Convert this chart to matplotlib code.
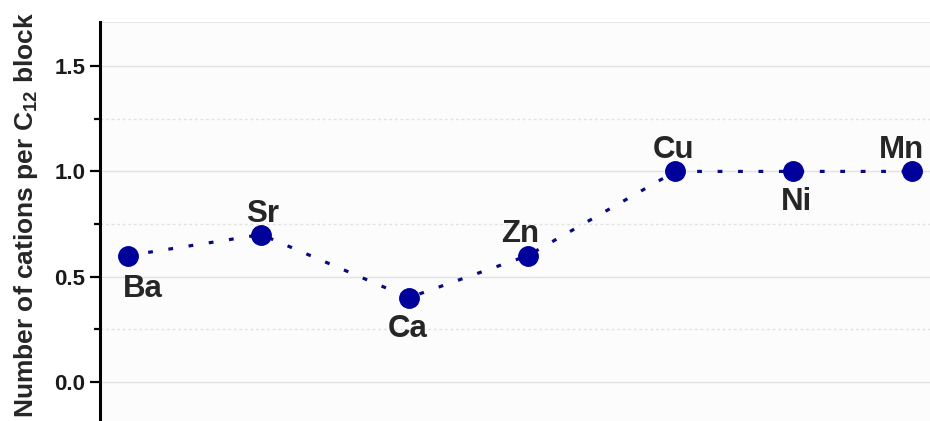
import matplotlib.pyplot as plt
import numpy as np

# data
cations = ["Ba", "Sr", "Ca", "Zn", "Cu", "Ni", "Mn"]
xpos = [0.0, 1.12, 2.36, 3.36, 4.60, 5.59, 6.59]
n_cations = [0.6, 0.7, 0.4, 0.6, 1.0, 1.0, 1.0]

# label placement (pixels from marker to text baseline centre)
label_off = [(15, -41), (1, 13), (-1, -39), (-8, 14), (-2, 13), (3, -39), (-11, 13)]

plt.rcParams['font.family'] = ['Liberation Sans', 'DejaVu Sans']

fig = plt.figure(figsize=(9.3, 4.21), dpi=100)
fig.patch.set_facecolor('white')
ax = fig.add_axes([100 / 930, 0.0, 1 - 100 / 930, (421 - 22) / 421])
ax.set_facecolor('#fcfcfc')

ax.plot(xpos, n_cations, linestyle=(0, (1.5, 4.9)), color='#0a0a80', linewidth=2.3,
        marker='o', markersize=14, markerfacecolor='#00009a', markeredgecolor='#00009a',
        zorder=3)

for x, y, name, off in zip(xpos, n_cations, cations, label_off):
    ax.annotate(name, (x, y), xytext=off, textcoords='offset pixels',
                ha='center', va='baseline', fontsize=22.5, fontweight='bold', color='#262626')

ax.set_xlim(-0.235, 6.74)
ax.set_ylim(-0.186, 1.71)
ax.set_yticks([0.0, 0.5, 1.0, 1.5])
ax.set_yticks([0.25, 0.75, 1.25], minor=True)
ax.set_yticklabels(["0.0", "0.5", "1.0", "1.5"], fontweight='bold', fontsize=16,
                   color='#1a1a1a')
ax.set_xticks([])

ax.grid(True, which='major', axis='y', color='#e2e2e2', linewidth=1.0)
ax.grid(True, which='minor', axis='y', color='#e2e2e2', linewidth=1.0, linestyle=(0, (2, 2)))
ax.axhline(1.71, color='#e6e6e6', linewidth=1.5, zorder=0.5)

for s in ['top', 'right', 'bottom']:
    ax.spines[s].set_visible(False)
ax.spines['left'].set_linewidth(2.2)
ax.tick_params(axis='y', which='major', direction='out', length=7.5, width=1.6, pad=3)
ax.tick_params(axis='y', which='minor', direction='out', length=4.5, width=1.6)

ax.set_ylabel("Number of cations per C$_{\\mathregular{12}}$ block", fontsize=19,
              fontweight='bold', color='#262626')
ax.yaxis.set_label_coords(-60 / 830, 0.516)

plt.savefig("out.png", dpi=100)
